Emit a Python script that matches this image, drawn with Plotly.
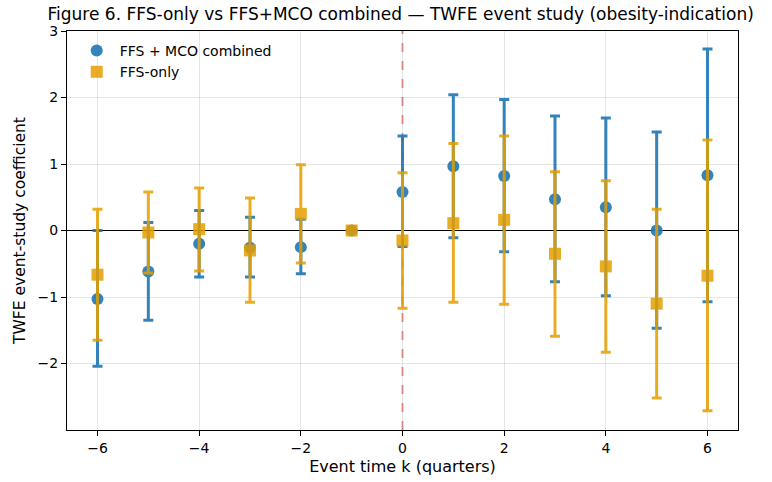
import plotly.graph_objects as go

k = [-6, -5, -4, -3, -2, -1, 0, 1, 2, 3, 4, 5, 6]

comb_coef = [-1.03, -0.615, -0.20, -0.26, -0.25, 0.0, 0.58, 0.965, 0.82, 0.47, 0.35, 0.00, 0.83]
comb_hi   = [0.00, 0.12, 0.30, 0.20, 0.17, 0.0, 1.42, 2.04, 1.97, 1.72, 1.69, 1.48, 2.73]
comb_lo   = [-2.04, -1.35, -0.70, -0.70, -0.65, 0.0, -0.24, -0.11, -0.32, -0.77, -0.98, -1.47, -1.07]

ffs_coef = [-0.665, -0.03, 0.02, -0.30, 0.25, 0.0, -0.15, 0.11, 0.16, -0.35, -0.54, -1.10, -0.68]
ffs_hi   = [0.32, 0.58, 0.64, 0.49, 0.99, 0.0, 0.87, 1.31, 1.42, 0.885, 0.75, 0.32, 1.36]
ffs_lo   = [-1.65, -0.64, -0.61, -1.08, -0.49, 0.0, -1.17, -1.08, -1.11, -1.59, -1.83, -2.52, -2.71]

x_ticks = [-6, -4, -2, 0, 2, 4, 6]
y_ticks = [-2, -1, 0, 1, 2, 3]

BLUE = "#1f77b4"
ORANGE = "#E69F00"

def errs(coef, hi, lo):
    return [h - c for h, c in zip(hi, coef)], [c - l for c, l in zip(coef, lo)]

cu, cm = errs(comb_coef, comb_hi, comb_lo)
fu, fm = errs(ffs_coef, ffs_hi, ffs_lo)

fig = go.Figure()
fig.add_trace(go.Scatter(
    x=k, y=comb_coef, mode="markers", name="FFS + MCO combined",
    marker=dict(symbol="circle", size=12, color=BLUE),
    opacity=0.9,
    error_y=dict(type="data", symmetric=False, array=cu, arrayminus=cm,
                 color=BLUE, thickness=3, width=5),
))
fig.add_trace(go.Scatter(
    x=k, y=ffs_coef, mode="markers", name="FFS-only",
    marker=dict(symbol="square", size=12, color=ORANGE),
    opacity=0.85,
    error_y=dict(type="data", symmetric=False, array=fu, arrayminus=fm,
                 color=ORANGE, thickness=3, width=5),
))

fig.add_hline(y=0, line=dict(color="black", width=1), layer="below")
fig.add_vline(x=0, line=dict(color="rgba(240,90,90,0.65)", width=2, dash="dash"), layer="below")

axis_common = dict(showline=True, linecolor="black", linewidth=1, mirror=True,
                   ticks="outside", ticklen=5, tickcolor="black",
                   showgrid=True, gridcolor="rgba(0,0,0,0.1)", gridwidth=1,
                   zeroline=False, tickfont=dict(size=14, color="black"),
                   automargin=False)

fig.update_layout(
    width=772, height=482,
    margin=dict(l=67, r=34, t=31, b=52),
    paper_bgcolor="white", plot_bgcolor="white",
    font=dict(family="DejaVu Sans", size=14, color="black"),
    title=dict(text="Figure 6. FFS-only vs FFS+MCO combined — TWFE event study (obesity-indication)",
               x=0.519, xanchor="center", y=0.971, yanchor="middle",
               font=dict(size=17)),
    xaxis=dict(range=[-6.6, 6.6], tickvals=x_ticks,
               title=dict(text="Event time k (quarters)", font=dict(size=16), standoff=6),
               **axis_common),
    yaxis=dict(range=[-3, 3], tickvals=y_ticks,
               title=dict(text="TWFE event-study coefficient", font=dict(size=15.5), standoff=8),
               **axis_common),
    legend=dict(x=0.01, y=0.99, xanchor="left", yanchor="top", itemwidth=36,
                bgcolor="rgba(255,255,255,0)", font=dict(size=14)),
    showlegend=True,
)

fig.write_html("out.html", config={"displayModeBar": False},
               post_script="document.body.style.margin='0';document.body.style.padding='0';")
